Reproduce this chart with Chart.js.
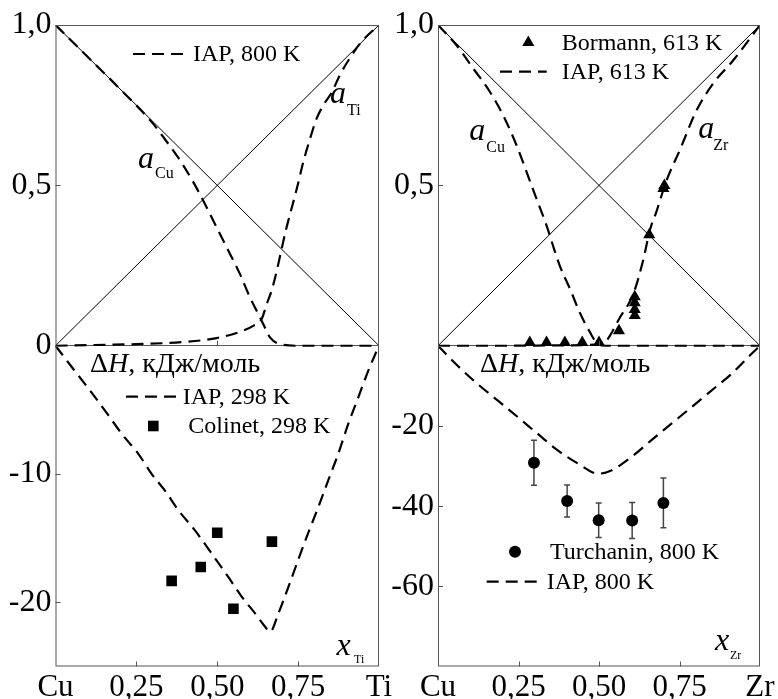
<!DOCTYPE html>
<html>
<head>
<meta charset="utf-8">
<title>Cu-Ti / Cu-Zr</title>
<script src="https://cdn.jsdelivr.net/npm/chart.js"></script>
<style>
  body { margin: 0; background: #fff; }
  #wrap { position: relative; width: 778px; height: 699px; }
  canvas { position: absolute; left: 0; top: 0; }
</style>
</head>
<body>
<div id="wrap">
  <canvas id="cuTi" width="778" height="699"></canvas>
  <canvas id="cuZr" width="778" height="699"></canvas>
</div>

<script>
// ---- axes ----
const xTickVals = [0, 0.25, 0.5, 0.75, 1];
const tiXLabels = ['Cu', '0,25', '0,50', '0,75', 'Ti'];
const zrXLabels = ['Cu', '0,25', '0,50', '0,75', 'Zr'];

const actTicks = [0, 0.5, 1];
const tiActLabels = ['0', '0,5', '1,0'];
const zrActLabels = ['', '0,5', '1,0'];
const tiDhTicks = [-10, -20];
const tiDhLabels = ['-10', '-20'];
const zrDhTicks = [-20, -40, -60];
const zrDhLabels = ['-20', '-40', '-60'];

// ideal solution lines a = x and a = 1 - x
const ideal = [0, 1];

// ---- Cu-Ti: activities, IAP 800 K ----
const tiCuX = [0, 0.1, 0.2, 0.297, 0.333, 0.385, 0.426, 0.467, 0.508, 0.539, 0.57, 0.601, 0.627, 0.642, 0.663, 0.694, 0.75, 0.85, 1];
const tiCuA = [1, 0.9, 0.8, 0.698, 0.651, 0.578, 0.51, 0.432, 0.349, 0.287, 0.224, 0.151, 0.099, 0.068, 0.026, 0.005, 0, 0, 0];
const tiTiX = [0, 0.1, 0.25, 0.4, 0.498, 0.58, 0.611, 0.637, 0.653, 0.668, 0.684, 0.699, 0.712, 0.725, 0.746, 0.766, 0.787, 0.807, 0.828, 0.854, 0.879, 0.916, 0.946, 1];
const tiTiA = [0, 0.002, 0.005, 0.012, 0.024, 0.047, 0.062, 0.083, 0.13, 0.172, 0.234, 0.302, 0.36, 0.41, 0.49, 0.573, 0.646, 0.708, 0.75, 0.79, 0.844, 0.906, 0.948, 1];
// ---- Cu-Ti: enthalpy of mixing, kJ/mol ----
const tiDhX = [0, 0.055, 0.107, 0.153, 0.205, 0.256, 0.297, 0.338, 0.38, 0.431, 0.483, 0.534, 0.576, 0.617, 0.648, 0.663, 0.689, 0.72, 0.75, 0.781, 0.812, 0.843, 0.874, 0.905, 0.936, 0.967, 0.993, 1];
const tiDhH = [0, -1.81, -3.5, -5.05, -6.87, -8.42, -9.98, -11.28, -12.83, -14.39, -16.2, -18.02, -19.57, -20.86, -21.9, -22.3, -20.86, -18.8, -16.7, -14.6, -12.6, -10.5, -8.42, -6.09, -4.02, -1.94, -0.39, 0];
const colinetX = [0.359, 0.449, 0.5, 0.55, 0.669];
const colinetH = [-18.33, -17.24, -14.57, -20.5, -15.27];

// ---- Cu-Zr: activities, IAP 613 K ----
const zrCuX = [0, 0.057, 0.109, 0.161, 0.202, 0.244, 0.275, 0.306, 0.337, 0.357, 0.378, 0.41, 0.44, 0.472, 0.492, 0.52, 0.6, 0.8, 1];
const zrCuA = [1, 0.9375, 0.865, 0.792, 0.719, 0.625, 0.542, 0.458, 0.375, 0.3125, 0.25, 0.177, 0.104, 0.042, 0.01, 0, 0, 0, 0];
const zrZrX = [0, 0.2, 0.35, 0.45, 0.5, 0.523, 0.565, 0.606, 0.637, 0.658, 0.679, 0.71, 0.751, 0.803, 0.855, 0.917, 1];
const zrZrA = [0, 0, 0.001, 0.002, 0.006, 0.016, 0.088, 0.16, 0.266, 0.36, 0.42, 0.516, 0.61, 0.734, 0.818, 0.89, 1];
const bormannX = [0.285, 0.337, 0.394, 0.448, 0.5, 0.562, 0.611, 0.611, 0.611, 0.611, 0.656, 0.7, 0.703];
const bormannA = [0.01, 0.01, 0.01, 0.01, 0.01, 0.047, 0.153, 0.134, 0.113, 0.094, 0.346, 0.49, 0.5];
// ---- Cu-Zr: enthalpy of mixing, kJ/mol ----
const zrDhX = [0, 0.061, 0.123, 0.186, 0.248, 0.31, 0.372, 0.435, 0.497, 0.538, 0.6, 0.662, 0.724, 0.786, 0.849, 0.911, 0.973, 1];
const zrDhH = [0, -4.98, -9.54, -13.7, -17.8, -22, -26.1, -29.4, -31.9, -31.1, -27.8, -23.6, -19.5, -15.4, -11.2, -7.05, -2.07, 0];
const turchX = [0.298, 0.401, 0.499, 0.603, 0.7];
const turchH = [-29.2, -38.7, -43.5, -43.6, -39.2];
const turchErr = [5.6, 4.0, 4.3, 4.5, 6.2];

const SERIF = '"Liberation Serif", "Times New Roman", serif';
const DASH = [12, 7];

function pts(xs, ys, f) {
  return xs.map((x, i) => ({ x: x, y: f ? f(ys[i]) : ys[i] }));
}

function dashed(data) {
  return { data: data, showLine: true, borderColor: '#000', borderWidth: 2.2, borderDash: DASH,
           pointRadius: 0, cubicInterpolationMode: 'monotone' };
}

function drawMarker(ctx, style, x, y, r) {
  ctx.beginPath();
  if (style === 'rect') {
    const s = Math.SQRT1_2 * r;
    ctx.rect(x - s, y - s, 2 * s, 2 * s);
  } else if (style === 'triangle') {
    ctx.moveTo(x, y - r);
    ctx.lineTo(x + r * 0.866, y + r * 0.5);
    ctx.lineTo(x - r * 0.866, y + r * 0.5);
    ctx.closePath();
  } else {
    ctx.arc(x, y, r, 0, Math.PI * 2);
  }
  ctx.fill();
}

// italic main symbol with an upright subscript
function symbol(ctx, a, main, sub, x, y, subDx, subDy, subSize) {
  ctx.textBaseline = 'alphabetic';
  ctx.font = 'italic 32px ' + SERIF;
  ctx.fillText(main, a.left + x, a.top + y);
  ctx.font = subSize + 'px ' + SERIF;
  ctx.fillText(sub, a.left + x + subDx, a.top + y + subDy);
}

function dhTitle(ctx, a, x, y) {
  ctx.textBaseline = 'middle';
  let px = a.left + x;
  ctx.font = '28px ' + SERIF;
  ctx.fillText('\u0394', px, a.top + y);
  px += ctx.measureText('\u0394').width;
  ctx.font = 'italic 28px ' + SERIF;
  ctx.fillText('H', px, a.top + y);
  px += ctx.measureText('H').width;
  ctx.font = '28px ' + SERIF;
  ctx.fillText(', кДж/моль', px, a.top + y);
}

function decor(o) {
  return {
    id: 'decor',
    beforeDatasetsDraw(chart) {
      if (!o.errors) return;
      const { ctx, scales: { x, y } } = chart;
      const e = o.errors;
      ctx.save();
      ctx.strokeStyle = '#444';
      ctx.lineWidth = 1.5;
      ctx.beginPath();
      e.xs.forEach((xv, i) => {
        const px = x.getPixelForValue(xv);
        const top = y.getPixelForValue((e.ys[i] + e.err[i]) / o.k);
        const bot = y.getPixelForValue((e.ys[i] - e.err[i]) / o.k);
        ctx.moveTo(px, top); ctx.lineTo(px, bot);
        ctx.moveTo(px - 3, top); ctx.lineTo(px + 3, top);
        ctx.moveTo(px - 3, bot); ctx.lineTo(px + 3, bot);
      });
      ctx.stroke();
      ctx.restore();
    },
    afterDraw(chart) {
      const { ctx, chartArea: a, scales: { x, y } } = chart;
      ctx.save();
      // frame + inward ticks
      ctx.strokeStyle = '#555';
      ctx.lineWidth = 1;
      ctx.strokeRect(a.left + 0.5, a.top + 0.5, a.width - 1, a.height - 1);
      ctx.beginPath();
      y.ticks.forEach(t => {
        const py = Math.round(y.getPixelForValue(t.value)) + 0.5;
        ctx.moveTo(a.left, py); ctx.lineTo(a.left + 5, py);
      });
      [0.25, 0.5, 0.75].forEach(v => {
        const px = Math.round(x.getPixelForValue(v)) + 0.5;
        ctx.moveTo(px, a.bottom); ctx.lineTo(px, a.bottom - 5);
      });
      const zx = Math.round(x.getPixelForValue(0.5)) + 0.5;
      const zy = y.getPixelForValue(0);
      ctx.moveTo(zx, zy); ctx.lineTo(zx, zy - 5);
      ctx.stroke();

      // legends
      ctx.fillStyle = '#000';
      ctx.strokeStyle = '#000';
      o.legend.forEach(item => {
        if (item.kind === 'dash') {
          ctx.lineWidth = 2.2;
          ctx.setLineDash(DASH);
          ctx.beginPath();
          ctx.moveTo(a.left + item.x1, a.top + item.y);
          ctx.lineTo(a.left + item.x2, a.top + item.y);
          ctx.stroke();
          ctx.setLineDash([]);
        } else {
          drawMarker(ctx, item.kind, a.left + item.x1, a.top + item.y, item.r);
        }
        ctx.font = '24px ' + SERIF;
        ctx.textBaseline = 'middle';
        ctx.fillText(item.text, a.left + item.tx, a.top + item.y + 1);
      });
      dhTitle(ctx, a, o.title.x, o.title.y);
      o.symbols.forEach(s => symbol(ctx, a, s.main, s.sub, s.x, s.y, s.dx, s.dy, s.size));
      ctx.restore();
    }
  };
}

function panel(id, o) {
  const toY = v => v / o.k;
  const yVals = actTicks.concat(o.dhTicks.map(toY));
  const yLabs = o.actLabels.concat(o.dhLabels);
  const datasets = o.markers.map(m => ({
    data: pts(m.xs, m.ys, m.dh ? toY : null), pointStyle: m.style, pointRadius: m.r,
    backgroundColor: '#000', borderColor: '#000', borderWidth: 0, showLine: false
  }));
  o.curves.forEach(c => datasets.push(dashed(pts(c.xs, c.ys, c.dh ? toY : null))));
  datasets.push({ data: ideal.map(v => ({ x: v, y: v })), showLine: true, borderColor: '#000', borderWidth: 1, pointRadius: 0 });
  datasets.push({ data: ideal.map(v => ({ x: v, y: 1 - v })), showLine: true, borderColor: '#000', borderWidth: 1, pointRadius: 0 });

  new Chart(document.getElementById(id), {
    type: 'scatter',
    data: { datasets: datasets },
    options: {
      responsive: false,
      animation: false,
      layout: { padding: o.padding },
      plugins: { legend: { display: false }, tooltip: { enabled: false } },
      scales: {
        x: {
          type: 'linear', min: 0, max: 1,
          afterBuildTicks: s => { s.ticks = xTickVals.map(v => ({ value: v })); },
          afterFit: s => { s.height = 32.5; },
          ticks: { callback: (v, i) => o.xLabels[i], color: '#000', font: { family: SERIF, size: 31 },
                   padding: 3, maxRotation: 0, autoSkip: false },
          grid: { display: false, drawTicks: false },
          border: { display: false }
        },
        y: {
          type: 'linear', min: -1, max: 1,
          afterBuildTicks: s => { s.ticks = yVals.map(v => ({ value: v })); },
          afterFit: s => { s.width = o.yWidth; },
          ticks: { callback: (v, i) => yLabs[i], color: '#000', font: { family: SERIF, size: 32 },
                   padding: 4, autoSkip: false },
          grid: { drawTicks: false, lineWidth: 1,
                  color: c => (c.tick && c.tick.value === 0) ? '#555' : 'rgba(0,0,0,0)' },
          border: { display: false }
        }
      }
    },
    plugins: [decor(o)]
  });
}

panel('cuTi', {
  k: 25,
  padding: { left: 0, right: 399, top: 25, bottom: 0 },
  yWidth: 55.5,
  xLabels: tiXLabels,
  actLabels: tiActLabels,
  dhTicks: tiDhTicks,
  dhLabels: tiDhLabels,
  markers: [
    { xs: colinetX, ys: colinetH, dh: true, style: 'rect', r: 7.5 }
  ],
  curves: [
    { xs: tiCuX, ys: tiCuA },
    { xs: tiTiX, ys: tiTiA },
    { xs: tiDhX, ys: tiDhH, dh: true }
  ],
  legend: [
    { kind: 'dash', x1: 77.5, x2: 129.5, y: 29, tx: 137.5, text: 'IAP, 800 K' },
    { kind: 'dash', x1: 70.5, x2: 121.5, y: 371.7, tx: 127.2, text: 'IAP, 298 K' },
    { kind: 'rect', x1: 97.8, y: 401, r: 7.5, tx: 132.8, text: 'Colinet, 298 K' }
  ],
  title: { x: 34.5, y: 340 },
  symbols: [
    { main: 'a', sub: 'Cu', x: 82.5, y: 143, dx: 17, dy: 10, size: 16 },
    { main: 'a', sub: 'Ti', x: 274.5, y: 78, dx: 17, dy: 12, size: 16 },
    { main: 'x', sub: 'Ti', x: 281, y: 630, dx: 17.5, dy: 8.3, size: 12 }
  ]
});

panel('cuZr', {
  k: 80,
  padding: { left: 383, right: 18, top: 25, bottom: 0 },
  yWidth: 55,
  xLabels: zrXLabels,
  actLabels: zrActLabels,
  dhTicks: zrDhTicks,
  dhLabels: zrDhLabels,
  markers: [
    { xs: bormannX, ys: bormannA, style: 'triangle', r: 7 },
    { xs: turchX, ys: turchH, dh: true, style: 'circle', r: 6 }
  ],
  curves: [
    { xs: zrCuX, ys: zrCuA },
    { xs: zrZrX, ys: zrZrA },
    { xs: zrDhX, ys: zrDhH, dh: true }
  ],
  errors: { xs: turchX, ys: turchH, err: turchErr },
  legend: [
    { kind: 'triangle', x1: 90.3, y: 17.5, r: 7, tx: 123.7, text: 'Bormann, 613 K' },
    { kind: 'dash', x1: 62, x2: 108.7, y: 46.7, tx: 123.7, text: 'IAP, 613 K' },
    { kind: 'circle', x1: 77, y: 526.7, r: 6, tx: 112, text: 'Turchanin, 800 K' },
    { kind: 'dash', x1: 48.7, x2: 98.7, y: 556.7, tx: 108.7, text: 'IAP, 800 K' }
  ],
  title: { x: 42, y: 340 },
  symbols: [
    { main: 'a', sub: 'Cu', x: 31.3, y: 115, dx: 17, dy: 11.7, size: 16 },
    { main: 'a', sub: 'Zr', x: 260.3, y: 113, dx: 15, dy: 12, size: 16 },
    { main: 'x', sub: 'Zr', x: 277, y: 625, dx: 15, dy: 9.3, size: 12 }
  ]
});
</script>
</body>
</html>
